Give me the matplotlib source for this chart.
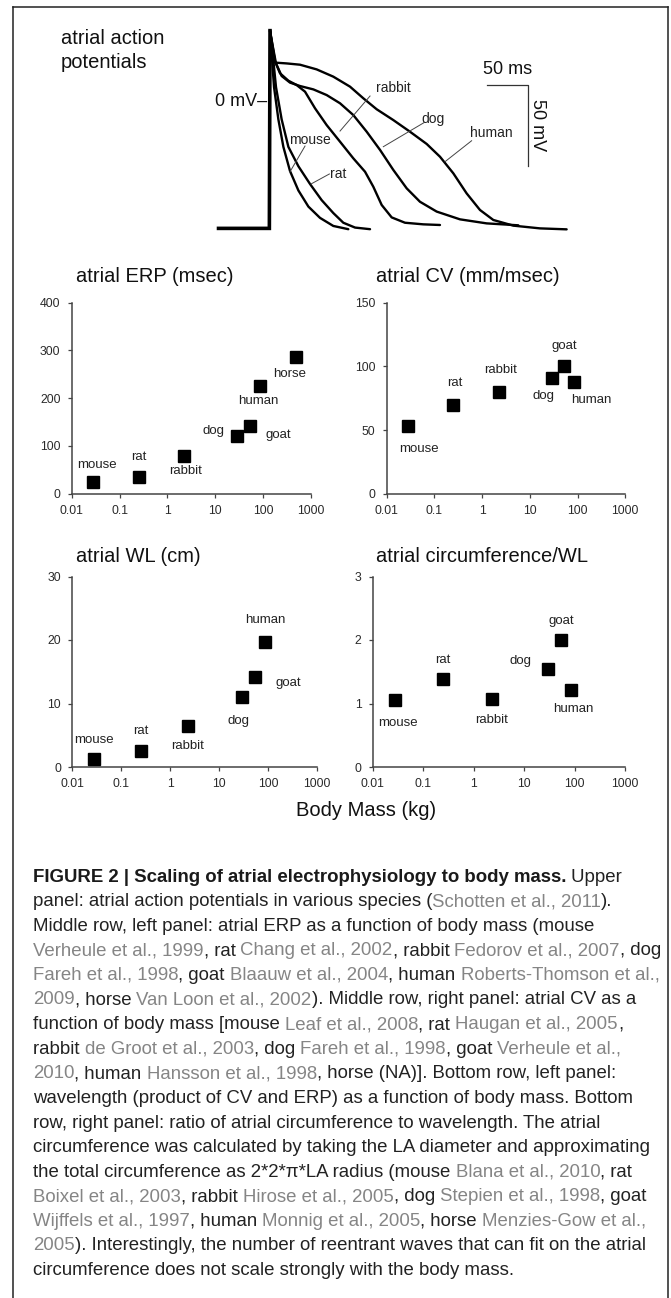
import matplotlib
matplotlib.use("Agg")
import matplotlib.pyplot as plt
from matplotlib.lines import Line2D
from matplotlib.font_manager import FontProperties

# ---- data ----
# atrial action potentials, time (ms) after upstroke and membrane potential (mV)
base_t = [-62, 0, 0.8]
base_v = [-78.5, -78.5, 44]
mouse_t = [0.8, 1.6, 5.7, 11.0, 17.1, 25.2, 35.4, 47.6, 61.8, 78.0, 96.3]
mouse_v = [44, 38, 9, -11, -28, -43, -55, -65, -72, -77, -79]
rat_t = [0.8, 2.4, 8.1, 15.0, 23.2, 35.4, 49.6, 63.8, 78.0, 90.2, 104.5, 122.8]
rat_v = [44, 38, 9, -11, -28, -40, -51, -61, -69, -75, -78, -79]
rabbit_t = [0.8, 2.8, 6.9, 13.0, 23.2, 33.3, 43.5, 55.7, 69.9, 86.2, 102.4, 116.7,
            126.8, 137.0, 149.2, 165.4, 187.8, 208.1]
rabbit_v = [44, 38, 25, 17.6, 13.0, 10.3, 6.2, -4.1, -14.5, -24.8, -35.1, -43.4,
            -52.7, -64.0, -71.7, -75.0, -76.0, -76.4]
dog_t = [0.8, 2.8, 8.1, 15.0, 25.2, 37.4, 53.7, 69.9, 86.2, 102.4, 118.7, 135.0,
         151.2, 167.5, 183.7, 204.1, 232.5, 265.0, 303.7]
dog_v = [44, 38, 23.7, 15.9, 11.8, 9.7, 7.6, 4.1, -1.0, -8.3, -18.6, -29.9,
         -42.3, -53.7, -62.0, -68.1, -72.9, -75.4, -76.6]
human_t = [0.8, 2.4, 6.9, 21.1, 37.4, 57.7, 78.0, 98.4, 114.6, 130.9, 151.2, 171.5,
           191.9, 208.1, 224.4, 240.6, 256.9, 273.2, 297.6, 330.1, 362.6]
human_v = [44, 38, 24.2, 23.7, 22.9, 20.0, 15.5, 9.3, 2.1, -4.7, -11.4, -18.6,
           -26.2, -34.1, -44.4, -56.8, -67.1, -73.3, -76.8, -78.5, -79.1]

# label text position, pointer start, pointer end (ms, mV)
ap_labels = ["rabbit", "dog", "human", "mouse", "rat"]
ap_label_pos = [(151, 8.3), (200, -10.9), (271, -19.6), (49.6, -23.7), (84, -44.8)]
ap_ptr_from = [(122.8, 3.5), (188.6, -13.0), (246.7, -24.2), (43.5, -27.5), (73.2, -44.8)]
ap_ptr_to = [(86.2, -18.2), (139, -27.9), (214.2, -37.2), (25.2, -43.4), (50.8, -51.0)]

# scatter panels, body mass in kg
species = ["mouse", "rat", "rabbit", "dog", "goat", "human", "horse"]
mass = [0.028, 0.25, 2.25, 29, 53, 85, 490]
erp = [24, 36, 80, 120, 142, 225, 287]
cv = [53, 70, 80, 91, 100, 88]
wl = [1.3, 2.5, 6.5, 11.0, 14.1, 19.7]
circ_wl = [1.06, 1.38, 1.07, 1.54, 2.0, 1.21]

xticks = [0.01, 0.1, 1, 10, 100, 1000]
xticklabels = ["0.01", "0.1", "1", "10", "100", "1000"]

# label offsets (pixels, right / down) from each marker
erp_off = [(4, -17), (0, -20), (1, 15), (-24, -5), (28, 9), (-1, 15), (-7, 17)]
cv_off = [(11, 23), (1, -22), (2, -22), (-8, 18), (0, -20), (17, 18)]
wl_off = [(0, -19), (0, -20), (0, 20), (-3, 24), (34, 6), (0, -22)]
circ_off = [(3, 23), (-1, -19), (0, 21), (-27, -8), (0, -19), (2, 19)]

# caption: (text, style) with style b=bold, n=normal, g=grey citation
caption = [
    [("FIGURE 2 | Scaling of atrial electrophysiology to body mass.", "b"), (" Upper", "n")],
    [("panel: atrial action potentials in various species (", "n"), ("Schotten et al., 2011", "g"), (").", "n")],
    [("Middle row, left panel: atrial ERP as a function of body mass (mouse", "n")],
    [("Verheule et al., 1999", "g"), (", rat ", "n"), ("Chang et al., 2002", "g"), (", rabbit ", "n"),
     ("Fedorov et al., 2007", "g"), (", dog", "n")],
    [("Fareh et al., 1998", "g"), (", goat ", "n"), ("Blaauw et al., 2004", "g"), (", human ", "n"),
     ("Roberts-Thomson et al.,", "g")],
    [("2009", "g"), (", horse ", "n"), ("Van Loon et al., 2002", "g"),
     ("). Middle row, right panel: atrial CV as a", "n")],
    [("function of body mass [mouse ", "n"), ("Leaf et al., 2008", "g"), (", rat ", "n"),
     ("Haugan et al., 2005", "g"), (",", "n")],
    [("rabbit ", "n"), ("de Groot et al., 2003", "g"), (", dog ", "n"), ("Fareh et al., 1998", "g"),
     (", goat ", "n"), ("Verheule et al.,", "g")],
    [("2010", "g"), (", human ", "n"), ("Hansson et al., 1998", "g"), (", horse (NA)]. Bottom row, left panel:", "n")],
    [("wavelength (product of CV and ERP) as a function of body mass. Bottom", "n")],
    [("row, right panel: ratio of atrial circumference to wavelength. The atrial", "n")],
    [("circumference was calculated by taking the LA diameter and approximating", "n")],
    [("the total circumference as 2*2*\u03c0*LA radius (mouse ", "n"), ("Blana et al., 2010", "g"), (", rat", "n")],
    [("Boixel et al., 2003", "g"), (", rabbit ", "n"), ("Hirose et al., 2005", "g"), (", dog ", "n"),
     ("Stepien et al., 1998", "g"), (", goat", "n")],
    [("Wijffels et al., 1997", "g"), (", human ", "n"), ("Monnig et al., 2005", "g"), (", horse ", "n"),
     ("Menzies-Gow et al.,", "g")],
    [("2005", "g"), ("). Interestingly, the number of reentrant waves that can fit on the atrial", "n")],
    [("circumference does not scale strongly with the body mass.", "n")],
]

# ---- figure ----
W, H = 671, 1298
fig = plt.figure(figsize=(W / 100, H / 100), dpi=100)
plt.rcParams['font.family'] = ['Liberation Sans', 'DejaVu Sans']


def fx(x):
    return x / W


def fy(y):
    return 1 - y / H


def px_axes(x0, y0, x1, y1):
    return fig.add_axes([x0 / W, 1 - y1 / H, (x1 - x0) / W, (y1 - y0) / H])


# frame around the figure
for xs, ys in [((13, 13), (7, H)), ((13, 668), (7, 7)), ((668, 668), (7, H))]:
    fig.add_artist(Line2D([fx(x) for x in xs], [fy(y) for y in ys], color='#222222', lw=1.1))

# ---- action potentials ----
ax = px_axes(200, 20, 580, 240)
ax.set_xlim(-84.6, 378.9)
ax.set_ylim(-85.7, 50.6)
ax.axis('off')
for t, v in [(human_t, human_v), (dog_t, dog_v), (rabbit_t, rabbit_v), (rat_t, rat_v), (mouse_t, mouse_v)]:
    ax.plot(t, v, color='black', lw=1.7, solid_joinstyle='round', solid_capstyle='round')
ax.plot(base_t, base_v, color='black', lw=2.6, solid_joinstyle='miter')
for lab, p, a, b in zip(ap_labels, ap_label_pos, ap_ptr_from, ap_ptr_to):
    ax.plot([a[0], b[0]], [a[1], b[1]], color='#444444', lw=0.7)
    ax.text(p[0], p[1], lab, fontsize=10, ha='center', va='center', color='#222222')
ax.text(-3, 0, "0 mV\u2013", fontsize=13, ha='right', va='center', color='#111111')
# scale bar 50 ms / 50 mV
ax.plot([265.9, 315.9, 315.9], [10.3, 10.3, -39.7], color='#333333', lw=0.9)
ax.text(290.9, 19.8, "50 ms", fontsize=13, ha='center', va='center', color='#111111')
ax.text(327, -14.5, "50 mV", fontsize=13, ha='center', va='center', rotation=-90, color='#111111')

fig.text(fx(61), fy(39), "atrial action", fontsize=14.5, va='center', color='#111111')
fig.text(fx(61), fy(63), "potentials", fontsize=14.5, va='center', color='#111111')


# ---- scatter panels ----
def scatter_panel(box, yvals, yticks, names, offsets, title, title_xy):
    a = px_axes(*box)
    n = len(yvals)
    a.plot(mass[:n], yvals, 's', color='black', ms=8.2, clip_on=False, zorder=3)
    for name, xv, yv, off in zip(names, mass, yvals, offsets):
        a.annotate(name, (xv, yv), xytext=(off[0], -off[1]), textcoords='offset pixels',
                   ha='center', va='center', fontsize=9.5, color='#222222')
    a.set_xscale('log')
    a.set_xlim(0.01, 1000)
    a.set_ylim(yticks[0], yticks[-1])
    a.set_xticks(xticks, xticklabels)
    a.set_yticks(yticks, [str(y) for y in yticks])
    a.minorticks_off()
    for s in ['top', 'right']:
        a.spines[s].set_visible(False)
    for s in ['left', 'bottom']:
        a.spines[s].set_color('#444444')
        a.spines[s].set_linewidth(1.1)
    a.tick_params(direction='out', length=3, width=0.9, color='#444444',
                  labelsize=8.8, labelcolor='#2a2a2a', pad=5)
    fig.text(fx(title_xy[0]), fy(title_xy[1]), title, fontsize=14.5, va='center', color='#111111')
    return a


scatter_panel((71.7, 302.7, 311, 493.7), erp, [0, 100, 200, 300, 400], species, erp_off,
              "atrial ERP (msec)", (76, 276))
scatter_panel((386.7, 302.7, 625.3, 493.7), cv, [0, 50, 100, 150], species, cv_off,
              "atrial CV (mm/msec)", (376, 276))
scatter_panel((72.3, 576.5, 317.3, 767), wl, [0, 10, 20, 30], species, wl_off,
              "atrial WL (cm)", (76, 557))
scatter_panel((372.7, 576.5, 625.3, 767), circ_wl, [0, 1, 2, 3], species, circ_off,
              "atrial circumference/WL", (376, 557))

fig.text(fx(366), fy(811), "Body Mass (kg)", fontsize=14.5, ha='center', va='center', color='#111111')

# ---- caption ----
renderer = fig.canvas.get_renderer()


def cap_prop(style, size):
    return FontProperties(family='Liberation Sans', weight='bold' if style == 'b' else 'normal', size=size)


def seg_width(s, prop):
    w1, _, _ = renderer.get_text_width_height_descent('|' + s + '|', prop, ismath=False)
    w0, _, _ = renderer.get_text_width_height_descent('||', prop, ismath=False)
    return w1 - w0


# fit the font size so the widest caption line ends just inside the frame
widest = max(sum(seg_width(s, cap_prop(st, 10)) for s, st in line) for line in caption)
cap_size = 10 * 630 / widest

cap_colors = {'b': '#1a1a1a', 'n': '#222222', 'g': '#858585'}
for i, line in enumerate(caption):
    x = 33
    y = 877 + 24.6 * i
    for s, st in line:
        prop = cap_prop(st, cap_size)
        fig.text(fx(x), fy(y), s, fontproperties=prop, color=cap_colors[st], va='center', ha='left')
        x += seg_width(s, prop)

fig.savefig("out.png", dpi=100)
